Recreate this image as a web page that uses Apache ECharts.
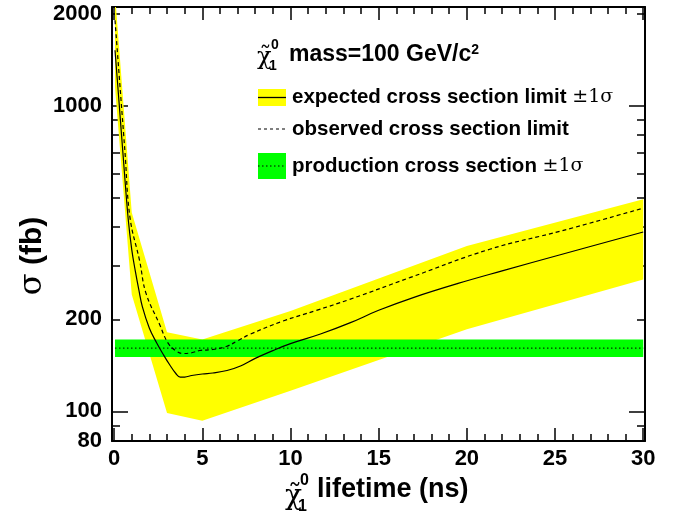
<!DOCTYPE html>
<html><head><meta charset="utf-8">
<script src="https://cdn.jsdelivr.net/npm/echarts@6/dist/echarts.min.js"></script>
<style>html,body{margin:0;padding:0;background:#fff}#c{width:675px;height:527px}</style>
</head><body><div id="c"></div>
<script>
// ---- data ----
const bandLifetime = [0.05, 1, 3, 5, 10, 20, 30];
const expectedLow  = [1150, 241, 98.7, 93.2, 116.7, 185.5, 270];
const expectedHigh = [2320, 447, 181.5, 171.8, 213, 347.5, 494];

const expectedLifetime = [0.05, 0.3, 0.55, 0.8, 1.0, 1.2, 1.4, 1.6, 2.0, 2.4, 2.8, 3.15, 3.5, 3.75, 4.0, 4.4, 5.0, 5.6, 6.4, 7.2, 8.0, 9.0, 10.0, 11.7, 13.4, 15.0, 17.0, 19.5, 22.0, 25.4, 30];
const expectedLimit    = [1516, 990, 640, 425, 338, 288, 250, 220, 187, 168, 153, 142, 133, 129.5, 129.5, 131, 132.5, 133.5, 136, 141, 149, 158, 166.5, 179, 195, 214, 236, 262, 288, 326.5, 386];

const observedLifetime = [0.05, 0.61, 0.9, 1.45, 1.8, 2.58, 3.05, 3.53, 3.9, 4.4, 4.85, 5.6, 6.36, 7.0, 7.68, 9.57, 11.47, 13.36, 16.76, 21.3, 25.37, 30];
const observedLimit    = [1900, 712, 430, 310, 244, 192.4, 167.5, 157.3, 154.6, 155.5, 158.1, 159.3, 163, 170, 178.4, 197.3, 213.9, 232.4, 273.6, 339, 389.2, 461.9];

const prodLifetime = [0.05, 30];
const prodCentral  = [161, 161];
const prodLow      = [150.7, 150.7];
const prodHigh     = [171.8, 171.8];

const xTickLabels = [0, 5, 10, 15, 20, 25, 30];
const xMinorTicks = [1,2,3,4,6,7,8,9,11,12,13,14,16,17,18,19,21,22,23,24,26,27,28,29];
const yTickLabels = [80, 100, 200, 1000, 2000];
const yMajorTicks = [100, 1000];
const yMinorTicks = [80, 90, 200, 300, 400, 500, 600, 700, 800, 900, 2000];

// ---- chart ----
const FONT = '"Liberation Sans", Arial, Helvetica, sans-serif';
const BLACK = '#000';
const zip = (a, b) => a.map((v, i) => [v, b[i]]);

const lineOn  = {show:true, onZero:false, lineStyle:{color:BLACK, width:2}};
const lineOff = {show:false, onZero:false};
const tickStyle = {color:BLACK, width:1.5};
const xBase = {type:'value', min:-0.12, max:30.1, splitLine:{show:false}};
const yBase = {type:'log', logBase:10, min:80, max:2100, splitLine:{show:false}};

function band(name, xs, lo, hi, color) {
  return {
    type:'custom', name:name, clip:true, silent:true,
    data: xs.map((x, i) => [x, lo[i], hi[i]]),
    encode:{x:0, y:[1, 2]},
    renderItem: function (params, api) {
      if (params.dataIndex !== 0) return null;
      const up = xs.map((x, i) => api.coord([x, hi[i]]));
      const dn = xs.map((x, i) => api.coord([x, lo[i]])).reverse();
      return {type:'polygon', shape:{points: up.concat(dn)}, style:{fill:color}};
    }
  };
}

const option = {
  animation:false,
  backgroundColor:'#fff',
  grid:{left:112, right:30, top:7, bottom:86, containLabel:false},
  xAxis:[
    Object.assign({}, xBase, {position:'bottom', axisLine:lineOn,
      axisLabel:{show:true, customValues:xTickLabels, formatter:v=>String(Math.round(v)), margin:7,
        color:BLACK, fontFamily:FONT, fontWeight:'bold', fontSize:22},
      axisTick:{show:true, customValues:xTickLabels, inside:true, length:13, lineStyle:tickStyle}}),
    Object.assign({}, xBase, {position:'bottom', axisLine:lineOff, axisLabel:{show:false},
      axisTick:{show:true, customValues:xMinorTicks, inside:true, length:7, lineStyle:tickStyle}}),
    Object.assign({}, xBase, {position:'top', axisLine:lineOn, axisLabel:{show:false},
      axisTick:{show:true, customValues:xTickLabels, inside:true, length:13, lineStyle:tickStyle}}),
    Object.assign({}, xBase, {position:'top', axisLine:lineOff, axisLabel:{show:false},
      axisTick:{show:true, customValues:xMinorTicks, inside:true, length:7, lineStyle:tickStyle}})
  ],
  yAxis:[
    Object.assign({}, yBase, {position:'left', axisLine:lineOn,
      axisLabel:{show:true, customValues:yTickLabels, formatter:v=>String(Math.round(v)), margin:10,
        color:BLACK, fontFamily:FONT, fontWeight:'bold', fontSize:22},
      axisTick:{show:true, customValues:yMajorTicks, inside:true, length:16, lineStyle:tickStyle}}),
    Object.assign({}, yBase, {position:'left', axisLine:lineOff, axisLabel:{show:false},
      axisTick:{show:true, customValues:yMinorTicks, inside:true, length:8, lineStyle:tickStyle}}),
    Object.assign({}, yBase, {position:'right', axisLine:lineOn, axisLabel:{show:false},
      axisTick:{show:true, customValues:yMajorTicks, inside:true, length:16, lineStyle:tickStyle}}),
    Object.assign({}, yBase, {position:'right', axisLine:lineOff, axisLabel:{show:false},
      axisTick:{show:true, customValues:yMinorTicks, inside:true, length:8, lineStyle:tickStyle}})
  ],
  series:[
    band('expected ±1σ band', bandLifetime, expectedLow, expectedHigh, '#ffff00'),
    band('production ±1σ band', prodLifetime, prodLow, prodHigh, '#00ff00'),
    {type:'line', name:'production cross section', data:zip(prodLifetime, prodCentral), symbol:'none',
      lineStyle:{color:BLACK, width:1, type:[1.5,2.5]}},
    {type:'line', name:'expected cross section limit', data:zip(expectedLifetime, expectedLimit), symbol:'none',
      smooth:0.4, lineStyle:{color:BLACK, width:1.2}},
    {type:'line', name:'observed cross section limit', data:zip(observedLifetime, observedLimit), symbol:'none',
      smooth:0.4, lineStyle:{color:BLACK, width:1.2, type:[4,3]}}
  ],
  graphic:[
    // y axis title
    {type:'text', x:33, y:256, rotation:Math.PI/2,
      style:{text:'{g|σ}{b| (fb)}', align:'center', verticalAlign:'middle', textAlign:'center', textVerticalAlign:'middle',
        rich:{g:{font:'32px "DejaVu Serif", serif', fill:BLACK}, b:{font:'bold 30px '+FONT, fill:BLACK}}}},
    // x axis title
    {type:'text', x:285, y:497, style:{text:'χ̃', font:'28px "DejaVu Serif", serif', fill:BLACK, verticalAlign:'middle', textVerticalAlign:'middle'}},
    {type:'text', x:300, y:481, style:{text:'0', font:'bold 16px '+FONT, fill:BLACK, verticalAlign:'middle', textVerticalAlign:'middle'}},
    {type:'text', x:298, y:507, style:{text:'1', font:'bold 16px '+FONT, fill:BLACK, verticalAlign:'middle', textVerticalAlign:'middle'}},
    {type:'text', x:317, y:490, style:{text:'lifetime (ns)', font:'bold 27px '+FONT, fill:BLACK, verticalAlign:'middle', textVerticalAlign:'middle'}},
    // legend header
    {type:'text', x:257, y:58, style:{text:'χ̃', font:'24px "DejaVu Serif", serif', fill:BLACK, verticalAlign:'middle', textVerticalAlign:'middle'}},
    {type:'text', x:271, y:45, style:{text:'0', font:'bold 14px '+FONT, fill:BLACK, verticalAlign:'middle', textVerticalAlign:'middle'}},
    {type:'text', x:269, y:66, style:{text:'1', font:'bold 14px '+FONT, fill:BLACK, verticalAlign:'middle', textVerticalAlign:'middle'}},
    {type:'text', x:289, y:55, style:{text:'mass=100 GeV/c{s|2}', font:'bold 23px '+FONT, fill:BLACK,
      verticalAlign:'middle', textVerticalAlign:'middle', rich:{s:{font:'bold 14px '+FONT, fill:BLACK, verticalAlign:'top', padding:[0,0,10,0]}}}},
    // entry 1
    {type:'rect', shape:{x:258, y:89, width:28, height:17}, style:{fill:'#ffff00'}},
    {type:'line', shape:{x1:258, y1:97.5, x2:286, y2:97.5}, style:{stroke:BLACK, lineWidth:1.3}},
    {type:'text', x:292, y:97.5, style:{text:'expected cross section limit {g|±1σ}', font:'bold 20.5px '+FONT, fill:BLACK,
      verticalAlign:'middle', textVerticalAlign:'middle', rich:{g:{font:'19px "DejaVu Serif", serif', fill:BLACK}}}},
    // entry 2
    {type:'line', shape:{x1:258, y1:129, x2:286, y2:129}, style:{stroke:BLACK, lineWidth:1, lineDash:[3,3]}},
    {type:'text', x:292, y:129, style:{text:'observed cross section limit', font:'bold 20.5px '+FONT, fill:BLACK,
      verticalAlign:'middle', textVerticalAlign:'middle'}},
    // entry 3
    {type:'rect', shape:{x:258, y:153, width:28, height:26}, style:{fill:'#00ff00'}},
    {type:'line', shape:{x1:258, y1:166, x2:286, y2:166}, style:{stroke:BLACK, lineWidth:1, lineDash:[1.5,2.5]}},
    {type:'text', x:292, y:166, style:{text:'production cross section {g|±1σ}', font:'bold 20.5px '+FONT, fill:BLACK,
      verticalAlign:'middle', textVerticalAlign:'middle', rich:{g:{font:'19px "DejaVu Serif", serif', fill:BLACK}}}}
  ]
};
const chart = echarts.init(document.getElementById('c'), null, {renderer:'canvas'});
chart.setOption(option);
</script></body></html>
